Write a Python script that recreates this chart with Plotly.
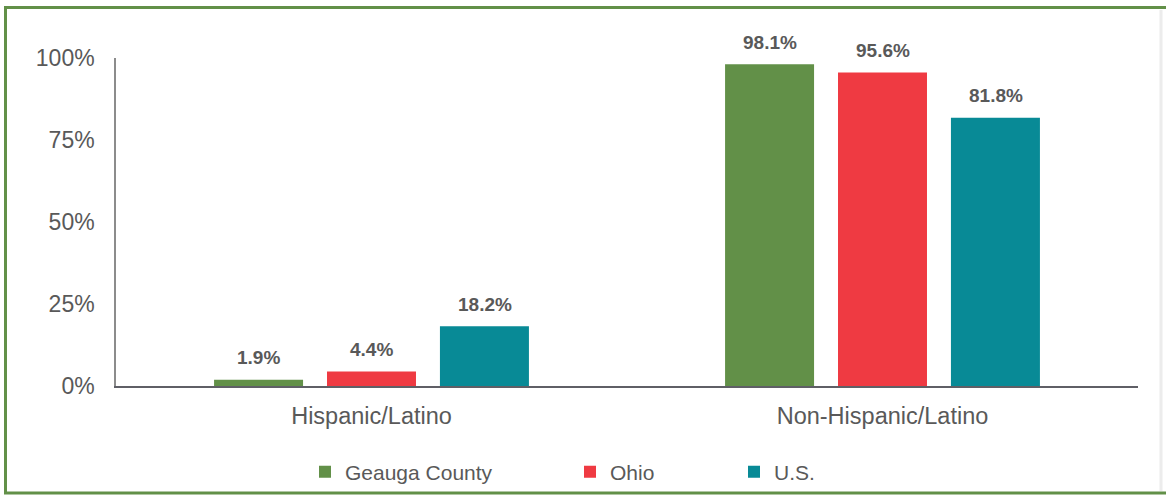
import plotly.graph_objects as go

categories = ["Hispanic/Latino", "Non-Hispanic/Latino"]
series_names = ["Geauga County", "Ohio", "U.S."]
geauga = [1.9, 98.1]
ohio = [4.4, 95.6]
us = [18.2, 81.8]
series_values = [geauga, ohio, us]
colors = ["#629048", "#EF3A42", "#088A96"]
y_ticks = [0, 25, 50, 75, 100]
y_tick_labels = ["0%", "25%", "50%", "75%", "100%"]

W, H = 1166, 495
FONT = "Liberation Sans, Arial, sans-serif"
TXT = "#595959"

fig = go.Figure()
legend_ids = ["legend", "legend2", "legend3"]
for name, vals, col, lg in zip(series_names, series_values, colors, legend_ids):
    fig.add_trace(go.Bar(
        x=categories, y=vals, name=name, marker=dict(color=col, line=dict(width=0)),
        legend=lg, hoverinfo="skip",
    ))

# data labels above bars
slot_px = 113
for i, vals in enumerate(series_values):
    for cat, v in zip(categories, vals):
        fig.add_annotation(
            x=cat, y=v, xref="x", yref="y", text=f"<b>{v:.1f}%</b>",
            showarrow=False, xshift=(i - 1) * slot_px, yshift=22,
            yanchor="middle", xanchor="center",
            font=dict(family=FONT, size=19, color=TXT),
        )

leg_common = dict(orientation="h", xref="container", yref="container",
                  yanchor="middle", xanchor="left", y=1 - 472 / H,
                  font=dict(family=FONT, size=21, color=TXT),
                  bgcolor="rgba(0,0,0,0)", borderwidth=0)


def px_x(p):
    return (p - 116) / 1022


def px_y(p):
    return (H - 109 - p) / 328


GREEN = "#629048"
fig.update_layout(
    width=W, height=H,
    margin=dict(l=116, r=28, t=58, b=109),
    paper_bgcolor="white", plot_bgcolor="white",
    barmode="group", bargap=0.337, bargroupgap=0.212,
    showlegend=True,
    legend=dict(x=305 / W, **leg_common),
    legend2=dict(x=570 / W, **leg_common),
    legend3=dict(x=734 / W, **leg_common),
    xaxis=dict(
        showline=True, linecolor="#5f5f66", linewidth=2,
        showgrid=False, zeroline=False,
        ticks="outside", ticklen=8, tickcolor="rgba(0,0,0,0)",
        tickfont=dict(family=FONT, size=23.5, color=TXT),
    ),
    yaxis=dict(
        range=[0, 100], tickvals=y_ticks, ticktext=y_tick_labels,
        showline=True, linecolor="#8c8c8c", linewidth=1.5,
        showgrid=False, zeroline=False,
        ticks="outside", ticklen=15, tickcolor="rgba(0,0,0,0)",
        tickfont=dict(family=FONT, size=23, color=TXT),
    ),
    shapes=[
        dict(type="line", xref="paper", yref="paper",
             x0=px_x(1161), x1=px_x(1161), y0=px_y(10), y1=px_y(491),
             line=dict(color="#ececec", width=3)),
        dict(type="line", xref="paper", yref="paper",
             x0=px_x(5.5), x1=px_x(5.5), y0=px_y(6), y1=px_y(494),
             line=dict(color=GREEN, width=3)),
        dict(type="line", xref="paper", yref="paper",
             x0=px_x(4), x1=px_x(1166), y0=px_y(7.5), y1=px_y(7.5),
             line=dict(color=GREEN, width=3)),
        dict(type="line", xref="paper", yref="paper",
             x0=px_x(4), x1=px_x(1166), y0=px_y(493), y1=px_y(493),
             line=dict(color=GREEN, width=3)),
    ],
)

fig.write_html("out.html", config={"displayModeBar": False},
               post_script="document.body.style.margin='0px';"
                           "document.body.style.overflow='hidden';")
